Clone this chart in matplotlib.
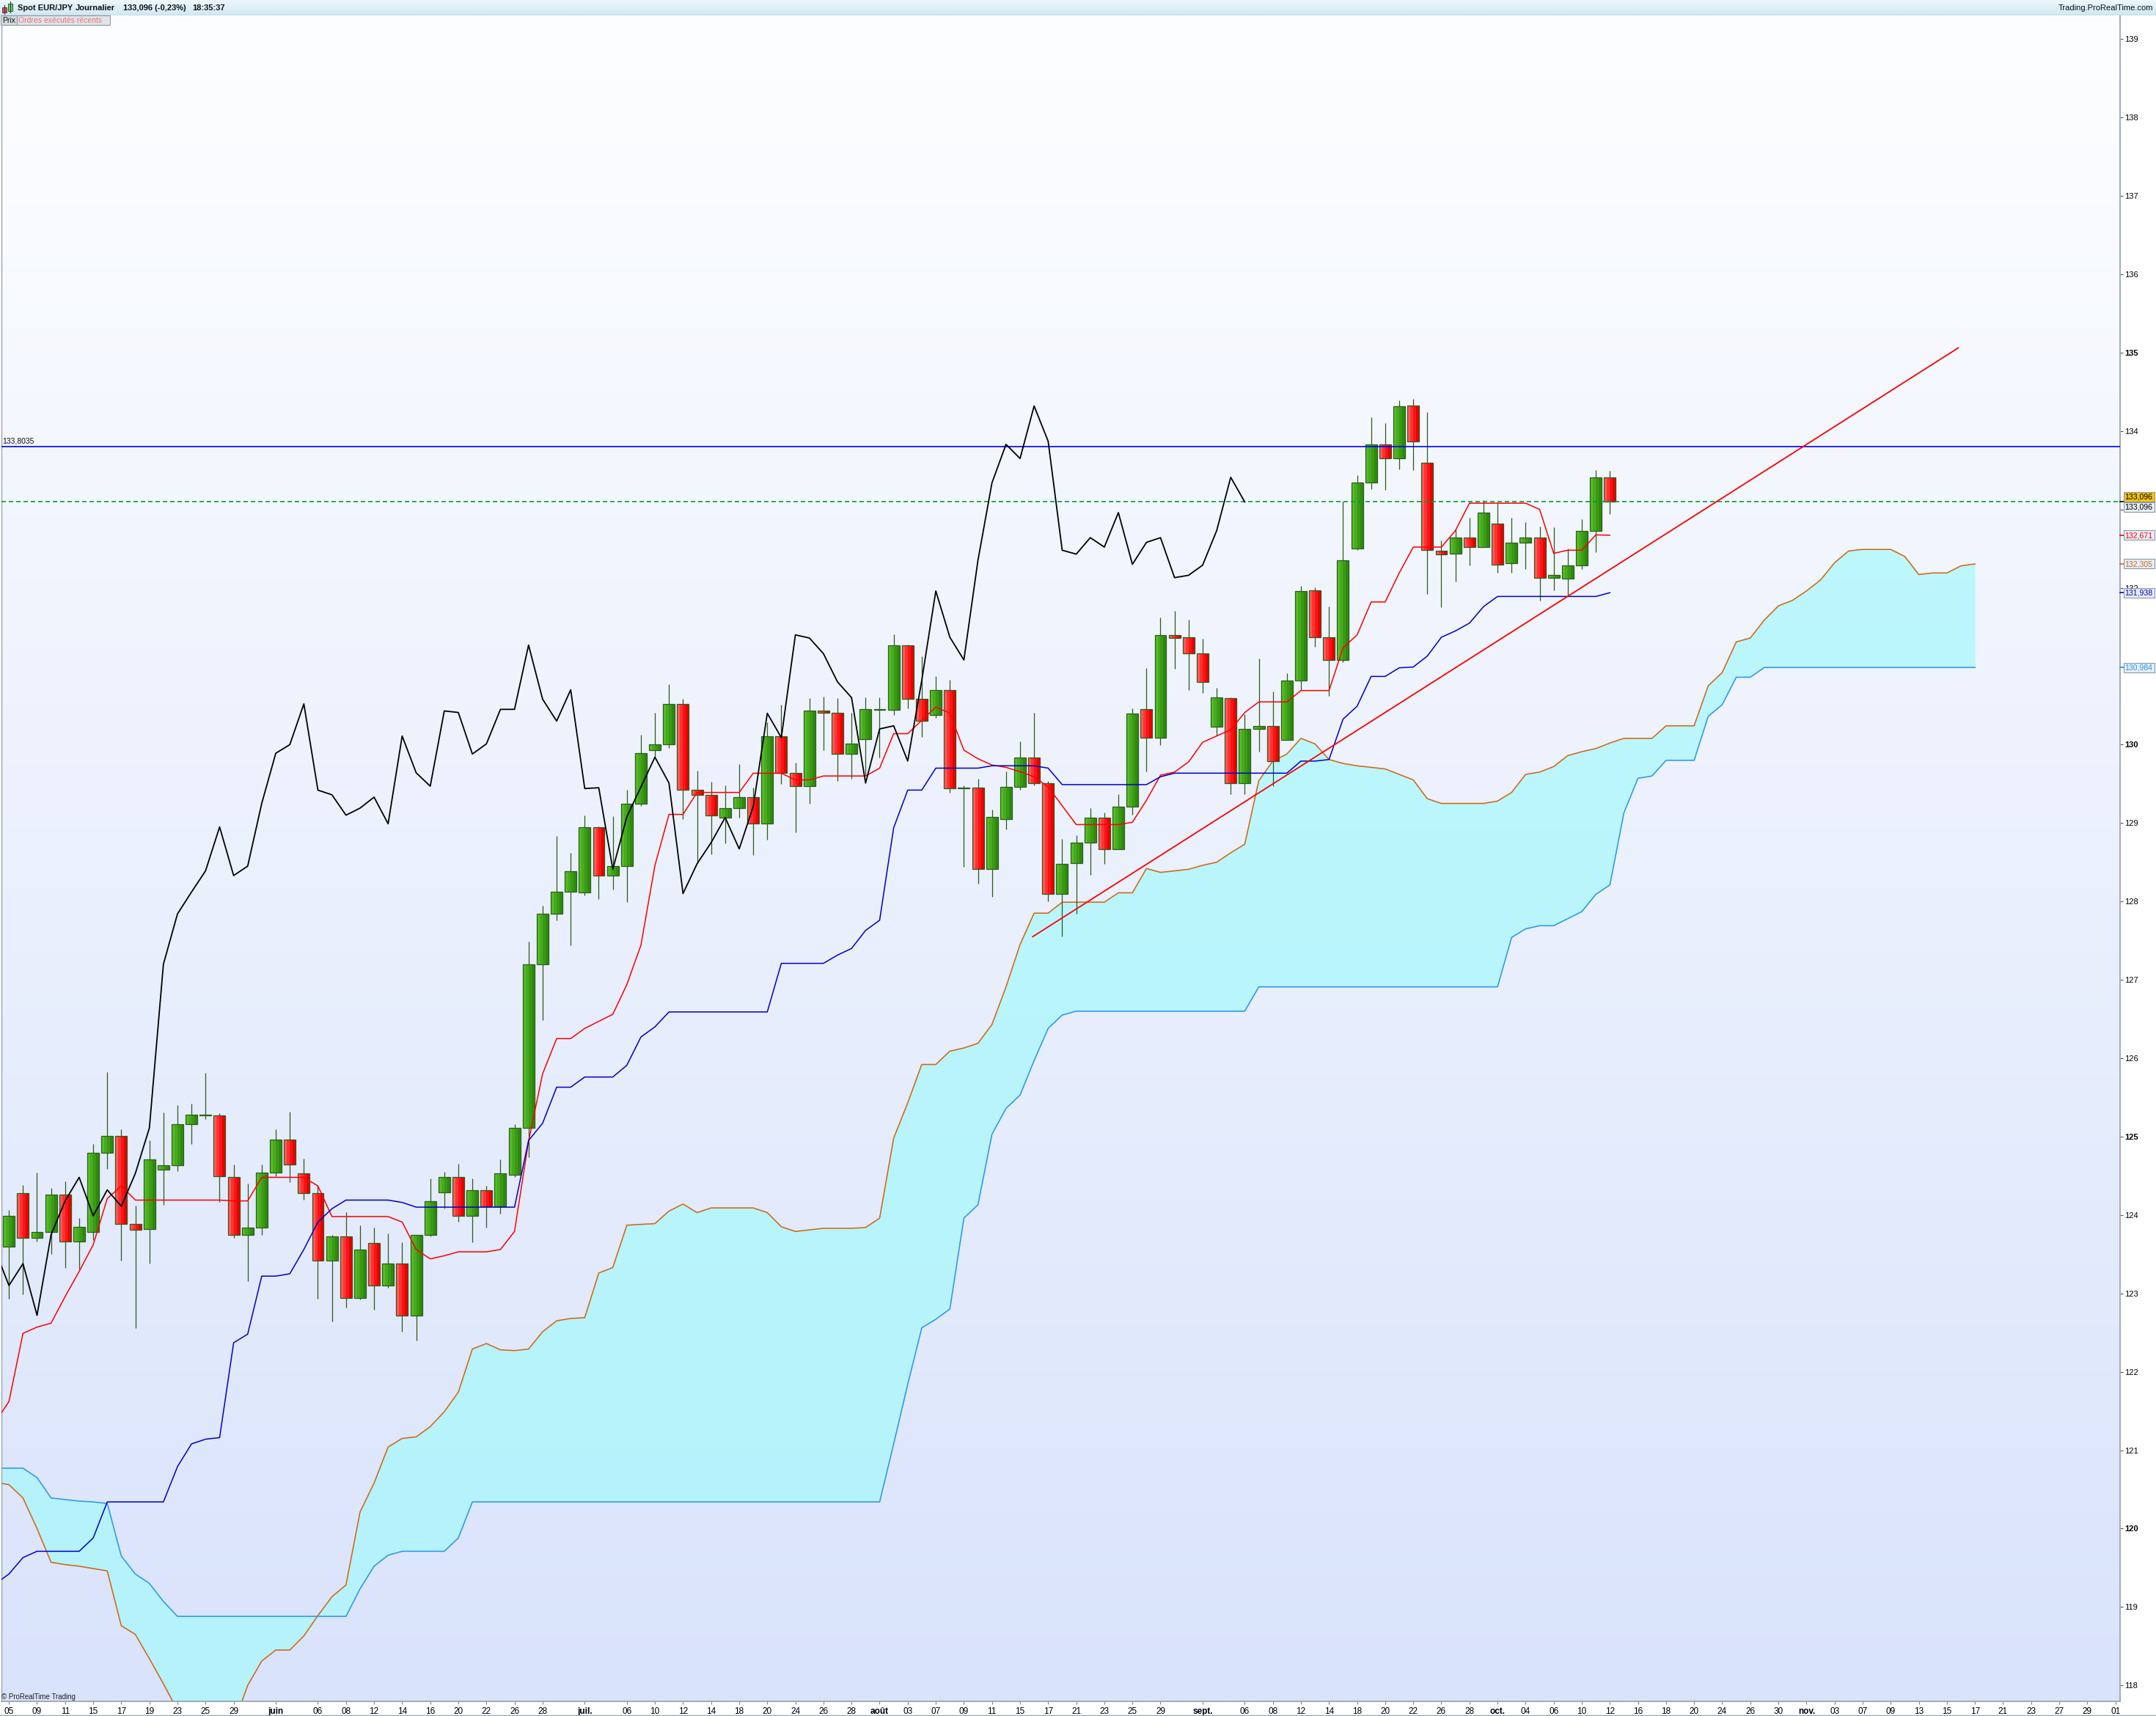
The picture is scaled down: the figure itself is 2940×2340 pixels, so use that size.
import numpy as np
import pandas as pd
import matplotlib
matplotlib.use('Agg')
import matplotlib.pyplot as plt
import matplotlib.colors as mcolors
from matplotlib.patches import Rectangle
from matplotlib.lines import Line2D
from matplotlib.transforms import IdentityTransform

plt.rcParams['font.family'] = ['Liberation Sans', 'DejaVu Sans']

# ---------------- data (EUR/JPY daily) ----------------
start_date = '2017-05-05'
n_axis_bars = 151

opens = [123.60, 124.28, 123.71, 123.78, 124.26, 123.66, 123.78, 124.79, 125.01, 123.89,
         123.82, 124.58, 124.63, 125.16, 125.27, 125.27, 124.48, 123.75, 123.84, 124.54,
         124.96, 124.53, 124.28, 123.42, 123.73, 122.94, 123.64, 123.10, 123.38, 122.72,
         123.75, 124.29, 124.48, 123.99, 124.32, 124.11, 124.51, 125.11, 127.20, 127.84,
         128.12, 128.11, 128.95, 128.33, 128.45, 129.25, 129.93, 130.00, 130.52, 129.42,
         129.36, 129.07, 129.19, 129.33, 128.99, 130.11, 129.64, 129.47, 130.43, 130.41,
         129.88, 130.07, 130.44, 130.44, 131.27, 130.58, 130.38, 130.70, 129.44, 129.45,
         128.41, 129.05, 129.46, 129.84, 129.51, 128.10, 128.49, 128.75, 129.07, 128.67,
         129.21, 130.45, 130.09, 131.40, 131.37, 131.16, 130.23, 130.59, 129.51, 130.20,
         130.24, 130.06, 130.82, 131.97, 131.37, 131.08, 132.50, 133.34, 133.83, 133.65,
         134.33, 133.60, 132.47, 132.44, 132.64, 132.52, 132.82, 132.31, 132.58, 132.64,
         132.13, 132.12, 132.29, 132.73, 133.41]

highs = [124.06, 124.38, 124.54, 124.34, 124.43, 123.96, 124.91, 125.82, 125.09, 124.12,
         124.95, 125.31, 125.40, 125.42, 125.81, 125.30, 124.64, 124.40, 124.64, 125.09,
         125.32, 124.72, 124.38, 123.75, 124.04, 123.87, 123.84, 123.76, 123.65, 123.75,
         124.47, 124.55, 124.65, 124.47, 124.37, 124.71, 125.16, 127.49, 127.95, 128.83,
         128.62, 129.10, 128.96, 129.09, 129.42, 130.13, 130.41, 130.77, 130.58, 129.67,
         129.53, 129.48, 129.75, 129.45, 130.28, 130.51, 129.77, 130.59, 130.61, 130.59,
         130.41, 130.60, 130.60, 131.41, 131.28, 131.13, 130.87, 130.83, 129.48, 129.56,
         129.17, 129.66, 130.04, 130.41, 129.54, 128.80, 128.84, 129.19, 129.13, 129.37,
         130.46, 130.98, 131.62, 131.71, 131.59, 131.35, 130.72, 130.60, 130.39, 131.10,
         130.68, 130.91, 132.02, 132.01, 131.76, 133.10, 133.44, 134.18, 134.10, 134.39,
         134.41, 134.24, 132.60, 132.75, 132.89, 133.12, 133.08, 132.89, 132.84, 132.78,
         132.77, 132.50, 132.88, 133.50, 133.49]

lows = [122.93, 122.99, 123.66, 123.50, 123.32, 123.31, 123.68, 124.59, 123.42, 122.56,
        123.38, 124.13, 124.56, 124.91, 125.22, 124.17, 123.71, 123.16, 123.75, 124.49,
        124.42, 124.19, 122.93, 122.64, 122.82, 122.92, 122.79, 123.07, 122.51, 122.40,
        123.73, 124.08, 123.91, 123.65, 123.84, 124.02, 124.48, 124.74, 126.49, 127.76,
        127.44, 128.08, 128.03, 128.15, 127.99, 129.22, 129.84, 129.96, 129.05, 128.49,
        128.60, 128.74, 129.07, 128.59, 128.79, 129.50, 128.88, 129.25, 129.93, 129.54,
        129.56, 129.61, 129.84, 130.38, 130.46, 130.10, 130.34, 129.39, 128.44, 128.23,
        128.06, 128.92, 129.42, 129.48, 128.00, 127.55, 127.84, 128.34, 128.48, 128.67,
        129.11, 129.66, 129.99, 130.97, 130.70, 130.66, 130.12, 129.37, 129.37, 129.91,
        129.47, 130.06, 130.70, 131.25, 130.62, 131.05, 132.48, 133.26, 133.25, 133.51,
        133.50, 131.92, 131.75, 132.08, 132.29, 132.52, 132.19, 132.19, 132.24, 131.84,
        131.97, 131.89, 132.24, 132.45, 132.94]

closes = [123.99, 123.71, 123.78, 124.26, 123.66, 123.85, 124.79, 125.01, 123.89, 123.81,
          124.71, 124.63, 125.16, 125.28, 125.28, 124.49, 123.75, 123.84, 124.54, 124.96,
          124.64, 124.28, 123.42, 123.73, 122.94, 123.56, 123.10, 123.38, 122.72, 123.75,
          124.18, 124.48, 123.99, 124.32, 124.11, 124.53, 125.11, 127.20, 127.84, 128.12,
          128.39, 128.95, 128.33, 128.45, 129.25, 129.89, 130.00, 130.52, 129.42, 129.36,
          129.10, 129.19, 129.33, 128.99, 130.11, 129.64, 129.47, 130.43, 130.41, 129.88,
          130.01, 130.45, 130.45, 131.27, 130.58, 130.30, 130.70, 129.44, 129.45, 128.41,
          129.08, 129.46, 129.84, 129.51, 128.10, 128.48, 128.75, 129.07, 128.67, 129.21,
          130.40, 130.09, 131.40, 131.36, 131.16, 130.80, 130.60, 129.51, 130.20, 130.24,
          129.79, 130.82, 131.96, 131.37, 131.08, 132.35, 133.34, 133.83, 133.65, 134.32,
          133.87, 132.48, 132.43, 132.64, 132.52, 132.96, 132.30, 132.58, 132.64, 132.13,
          132.16, 132.29, 132.73, 133.41, 133.096]

# indicator lines start one bar before the first candle (bar -1)
line_first_bar = -1

tenkan = [121.35,
          121.62, 122.49, 122.57, 122.62, 122.96, 123.28, 123.62, 124.21, 124.37, 124.19,
          124.19, 124.19, 124.19, 124.19, 124.19, 124.19, 124.18, 124.18, 124.48, 124.48,
          124.48, 124.48, 124.37, 123.98, 123.98, 123.98, 123.98, 123.98, 123.91, 123.56,
          123.44, 123.48, 123.53, 123.53, 123.53, 123.56, 123.79, 124.94, 125.80, 126.25,
          126.25, 126.38, 126.47, 126.56, 126.94, 127.44, 128.46, 129.11, 129.11, 129.39,
          129.39, 129.39, 129.39, 129.635, 129.635, 129.635, 129.55, 129.55, 129.60, 129.60,
          129.60, 129.60, 129.70, 130.14, 130.14, 130.31, 130.48, 130.40, 129.93, 129.82,
          129.74, 129.71, 129.655, 129.59, 129.46, 129.22, 128.98, 128.98, 128.98, 128.98,
          129.01, 129.29, 129.61, 129.65, 129.78, 130.03, 130.11, 130.19, 130.41, 130.545,
          130.545, 130.545, 130.69, 130.69, 130.69, 131.235, 131.40, 131.82, 131.82, 132.19,
          132.52, 132.52, 132.52, 132.73, 133.08, 133.08, 133.08, 133.08, 133.08, 133.00,
          132.44, 132.48, 132.48, 132.676, 132.671]

kijun = [119.29,
         119.42, 119.63, 119.71, 119.71, 119.71, 119.71, 119.88, 120.34, 120.34, 120.34,
         120.34, 120.34, 120.79, 121.08, 121.14, 121.16, 122.37, 122.48, 123.22, 123.22,
         123.25, 123.56, 123.91, 124.08, 124.19, 124.19, 124.19, 124.19, 124.16, 124.10,
         124.10, 124.10, 124.10, 124.10, 124.10, 124.10, 124.10, 124.95, 125.17, 125.63,
         125.63, 125.76, 125.76, 125.76, 125.91, 126.27, 126.40, 126.59, 126.59, 126.59,
         126.59, 126.59, 126.59, 126.59, 126.59, 127.21, 127.21, 127.21, 127.21, 127.315,
         127.40, 127.63, 127.76, 128.94, 129.42, 129.42, 129.70, 129.70, 129.70, 129.70,
         129.73, 129.73, 129.73, 129.73, 129.70, 129.49, 129.49, 129.49, 129.49, 129.49,
         129.49, 129.49, 129.59, 129.636, 129.636, 129.636, 129.636, 129.636, 129.636, 129.636,
         129.636, 129.636, 129.79, 129.79, 129.81, 130.325, 130.49, 130.87, 130.87, 130.98,
         130.99, 131.13, 131.37, 131.45, 131.55, 131.76, 131.89, 131.89, 131.89, 131.89,
         131.89, 131.89, 131.89, 131.89, 131.938]

senkou_a = [120.59,
            120.56, 120.39, 120.00, 119.57, 119.54, 119.52, 119.49, 119.46, 118.76, 118.65,
            118.34, 118.02, 117.68, 117.45, 117.35, 117.40, 117.50, 118.00, 118.31, 118.45,
            118.45, 118.63, 118.89, 119.13, 119.28, 120.21, 120.58, 121.04, 121.15, 121.17,
            121.30, 121.49, 121.74, 122.29, 122.36, 122.28, 122.27, 122.29, 122.51, 122.65,
            122.68, 122.69, 123.26, 123.33, 123.87, 123.88, 123.89, 124.05, 124.14, 124.03,
            124.09, 124.09, 124.09, 124.09, 124.03, 123.85, 123.79, 123.81, 123.83, 123.83,
            123.83, 123.84, 123.96, 124.98, 125.43, 125.92, 125.92, 126.09, 126.13, 126.19,
            126.43, 126.91, 127.45, 127.85, 127.85, 127.99, 127.99, 127.99, 127.99, 128.11,
            128.11, 128.42, 128.37, 128.39, 128.41, 128.46, 128.50, 128.62, 128.73, 129.54,
            129.79, 129.88, 130.08, 130.01, 129.81, 129.76, 129.73, 129.71, 129.69, 129.62,
            129.55, 129.31, 129.25, 129.25, 129.25, 129.25, 129.28, 129.39, 129.62, 129.65,
            129.72, 129.86, 129.91, 129.95, 130.02, 130.08, 130.08, 130.08, 130.24, 130.24,
            130.24, 130.75, 130.92, 131.31, 131.36, 131.59, 131.77, 131.84, 131.96, 132.10,
            132.32, 132.47, 132.49, 132.49, 132.49, 132.40, 132.17, 132.19, 132.19, 132.28,
            132.305]

senkou_b = [120.77,
            120.77, 120.77, 120.65, 120.39, 120.37, 120.35, 120.34, 120.32, 119.65, 119.42,
            119.30, 119.07, 118.88, 118.88, 118.88, 118.88, 118.88, 118.88, 118.88, 118.88,
            118.88, 118.88, 118.88, 118.88, 118.88, 119.23, 119.52, 119.66, 119.71, 119.71,
            119.71, 119.71, 119.88, 120.34, 120.34, 120.34, 120.34, 120.34, 120.34, 120.34,
            120.34, 120.34, 120.34, 120.34, 120.34, 120.34, 120.34, 120.34, 120.34, 120.34,
            120.34, 120.34, 120.34, 120.34, 120.34, 120.34, 120.34, 120.34, 120.34, 120.34,
            120.34, 120.34, 120.34, 121.08, 121.84, 122.56, 122.67, 122.80, 123.96, 124.13,
            125.03, 125.36, 125.53, 125.97, 126.38, 126.55, 126.60, 126.60, 126.60, 126.60,
            126.60, 126.60, 126.60, 126.60, 126.60, 126.60, 126.60, 126.60, 126.60, 126.91,
            126.91, 126.91, 126.91, 126.91, 126.91, 126.91, 126.91, 126.91, 126.91, 126.91,
            126.91, 126.91, 126.91, 126.91, 126.91, 126.91, 126.91, 127.54, 127.65, 127.69,
            127.69, 127.78, 127.87, 128.09, 128.21, 129.13, 129.57, 129.60, 129.80, 129.80,
            129.80, 130.36, 130.51, 130.86, 130.86, 130.984, 130.984, 130.984, 130.984, 130.984,
            130.984, 130.984, 130.984, 130.984, 130.984, 130.984, 130.984, 130.984, 130.984, 130.984,
            130.984]

chikou_shift = 26
trend_x = [72.9, 138.8]
trend_y = [127.55, 135.06]
resistance_level = 133.8035
y_tick_values = list(range(118, 140))
hidden_y_ticks = [131, 133]

# ---------------- layout ----------------
W, H = 2940, 2340
fig = plt.figure(figsize=(W / 100, H / 100), dpi=100)
fig.patch.set_facecolor('white')

ax_l, ax_r, ax_t, ax_b = 2, 2891, 21, 2320
ax = fig.add_axes([ax_l / W, 1 - ax_b / H, (ax_r - ax_l) / W, (ax_b - ax_t) / H])

bar0_px, bar_px = 12.2, 19.15
x_lo = (ax_l - bar0_px) / bar_px
x_hi = (ax_r - bar0_px) / bar_px
p_ref, y_ref, ppu = 139.0, 53.3, 106.9
y_hi = p_ref + (y_ref - ax_t) / ppu
y_lo = p_ref - (ax_b - y_ref) / ppu


def vgrad(c_top, c_bot, n=256):
    t = np.linspace(0, 1, n)[:, None]
    a = np.array(mcolors.to_rgb(c_top))
    b = np.array(mcolors.to_rgb(c_bot))
    return (a + (b - a) * t).reshape(n, 1, 3)


ax.imshow(vgrad('#fdfeff', '#d9e3fb'), extent=(0, 1, 0, 1), transform=ax.transAxes,
          aspect='auto', zorder=0, interpolation='bilinear')

# cloud
xc = np.arange(len(senkou_a)) + line_first_bar
ax.fill_between(xc, senkou_a, senkou_b, color='#a8f8fc', alpha=0.72, lw=0, zorder=1)
ax.plot(xc, senkou_a, color='#cc6a14', lw=1.15, zorder=2)
ax.plot(xc, senkou_b, color='#2a98f0', lw=1.15, zorder=2)

# candles
o = np.array(opens); h = np.array(highs); l = np.array(lows); c = np.array(closes)
xi = np.arange(len(o))
up = c >= o
ax.vlines(xi, l, h, color='#2d5a18', lw=0.9, zorder=3)
bw = 0.835
bottoms = np.minimum(o, c)
heights = np.maximum(np.abs(c - o), 0.014)
green_shades = ['#56bc28', '#47ab1e', '#3a9a15', '#2e8a0e']
red_shades = ['#ff5a5a', '#ff3232', '#fa1414', '#ea0000']
for k in range(4):
    cols = [green_shades[k] if u else red_shades[k] for u in up]
    ax.bar(xi - bw / 2 + k * bw / 4, heights, width=bw / 4, bottom=bottoms, align='edge',
           color=cols, lw=0, zorder=4)
ax.bar(xi - bw / 2, heights, width=bw, bottom=bottoms, align='edge', fill=False,
       edgecolor='#2e5e1e', lw=0.9, zorder=4.5)

# levels
ax.axhline(resistance_level, color='#0000ff', lw=1.2, zorder=5)
ax.axhline(closes[-1], color='#00a040', lw=1.2, ls=(0, (3.6, 2.4)), zorder=5)

# ichimoku lines
xl_ind = np.arange(len(tenkan)) + line_first_bar
ax.plot(xl_ind, tenkan, color='#ff0000', lw=1.1, zorder=6)
ax.plot(xl_ind, kijun, color='#0000cc', lw=1.1, zorder=6)
ch_x = np.arange(-1, len(closes) - chikou_shift)
ax.plot(ch_x, closes[chikou_shift - 1:], color='black', lw=1.3, zorder=6)
ax.plot(trend_x, trend_y, color='#ff0000', lw=1.3, zorder=6)

ax.annotate(f'{resistance_level:.4f}'.replace('.', ','), xy=(0, resistance_level),
            xycoords=ax.get_yaxis_transform(), xytext=(1, 2), textcoords='offset pixels',
            ha='left', va='bottom', fontsize=7.5, color='#111111', zorder=7)

ax.set_xlim(x_lo, x_hi)
ax.set_ylim(y_lo, y_hi)

# x ticks from business-day dates
dates = pd.bdate_range(start_date, periods=n_axis_bars)
month_names = {6: 'juin', 7: 'juil.', 8: 'août', 9: 'sept.', 10: 'oct.', 11: 'nov.'}
month_starts = [i for i in range(1, n_axis_bars)
                if dates[i].month != dates[i - 1].month and dates[i].month in month_names]
xt, xl, xb = [], [], []
for i in range(n_axis_bars):
    if i in month_starts:
        xt.append(i); xl.append(month_names[dates[i].month]); xb.append(True)
    elif i % 2 == 0 and not any(abs(i - m) <= 1 for m in month_starts):
        xt.append(i); xl.append(f'{dates[i].day:02d}'); xb.append(False)
ax.set_xticks(xt)
ax.set_xticklabels(xl, fontsize=8.5)
for lbl, bo in zip(ax.get_xticklabels(), xb):
    if bo:
        lbl.set_fontweight('bold')
ax.tick_params(axis='x', direction='out', length=3, width=0.8, color='#7a8590', pad=2.5)

ax.yaxis.tick_right()
ax.set_yticks(y_tick_values)
ax.set_yticklabels(['' if v in hidden_y_ticks else str(v) for v in y_tick_values], fontsize=8)
for lbl, v in zip(ax.get_yticklabels(), y_tick_values):
    if v % 5 == 0:
        lbl.set_fontweight('bold')
ax.tick_params(axis='y', direction='out', length=3, width=0.8, color='#505050', pad=1.5)

ax.spines['top'].set_visible(False)
for s in ['left', 'right', 'bottom']:
    ax.spines[s].set_color('#9aa6b0')
ax.spines['left'].set_linewidth(1.0)
ax.spines['right'].set_linewidth(1.3)
ax.spines['bottom'].set_linewidth(1.3)

# ---------------- figure-level decorations (pixel coords, y from top) ----------------
ID = IdentityTransform()


def rect(x0, y0, x1, y1, **kw):
    fig.add_artist(Rectangle((x0, H - y1), x1 - x0, y1 - y0, transform=ID, **kw))


def ftext(x, y, s, **kw):
    fig.text(x, H - y, s, transform=ID, **kw)


# header
axh = fig.add_axes([0, 1 - 21 / H, 1, 21 / H])
axh.set_xlim(0, W); axh.set_ylim(21, 0); axh.axis('off')
axh.imshow(vgrad('#eef8fc', '#cfe7f2'), extent=(0, W, 21, 0), aspect='auto', interpolation='bilinear')
axh.plot([0, W], [20.5, 20.5], color='#9fb0bc', lw=1)
# icon
axh.plot([6.5, 6.5], [7, 19], color='#333333', lw=0.8)
axh.add_patch(Rectangle((3.5, 10), 6, 7, facecolor='#e84a4a', edgecolor='#444444', lw=0.7))
axh.plot([14.5, 14.5], [2, 17], color='#333333', lw=0.8)
axh.add_patch(Rectangle((11.5, 5), 6, 10, facecolor='#55e055', edgecolor='#444444', lw=0.7))
axh.text(24, 11, 'Spot EUR/JPY', fontsize=8, fontweight='bold', va='center', color='#111111')
axh.text(103, 11, 'Journalier', fontsize=8, fontweight='bold', va='center', color='#111111')
axh.text(168, 11, f'{closes[-1]:.3f}'.replace('.', ',') + ' (-0,23%)', fontsize=8,
         fontweight='bold', va='center', color='#111111')
axh.text(262, 11, '18:35:37', fontsize=8, fontweight='bold', va='center', color='#111111')
axh.text(2936, 11, 'Trading.ProRealTime.com', fontsize=8, ha='right', va='center', color='#111111')

# tabs
rect(1, 21, 23, 34, facecolor='#d3dae1', edgecolor='#8e9aa6', lw=0.8, zorder=20)
ftext(3, 27.8, 'Prix', fontsize=7.5, va='center', color='#111111', zorder=21)
rect(23, 21, 150, 34, facecolor='#dfe5eb', edgecolor='#8e9aa6', lw=0.8, zorder=20)
ftext(25, 27.8, 'Ordres exécutés récents', fontsize=7.5, va='center', color='#f07070', zorder=21)

ftext(2, 2314, '© ProRealTime Trading', fontsize=7, va='center', color='#222222')
fig.add_artist(Line2D([0, W], [H - 2338.5, H - 2338.5], transform=ID, color='#9aa6b0', lw=1))


# right-side value labels
def img_y(v):
    return H - ax.transData.transform((0, v))[1]


labels = [
    (closes[-1], '#000000', '#f6c400', -7, '#000000'),
    (closes[-1], '#000000', '#e8eef7', 7, None),
    (tenkan[-1], '#ff0000', '#e8eef7', 0, '#ff0000'),
    (senkou_a[-1], '#cc6a14', '#e8eef7', 0, '#cc6a14'),
    (kijun[-1], '#0000cc', '#e8eef7', 0, '#0000cc'),
    (senkou_b[-1], '#2a98f0', '#e8eef7', 0, '#2a98f0'),
]
for v, tc, fc, off, tickc in labels:
    yv = img_y(v)
    yc = yv + off
    if tickc is not None:
        fig.add_artist(Line2D([2891, 2895.5], [H - yv, H - yv], transform=ID, color=tickc, lw=1.2, zorder=30))
    rect(2895.5, yc - 6.5, 2937.5, yc + 6.5, facecolor=fc, edgecolor='#8796a8', lw=0.8, zorder=30)
    ftext(2916.5, yc + 0.3, f'{v:.3f}'.replace('.', ','), fontsize=7.6, ha='center', va='center',
          color=tc, zorder=31)

fig.savefig('out.png', dpi=100, facecolor='white')
